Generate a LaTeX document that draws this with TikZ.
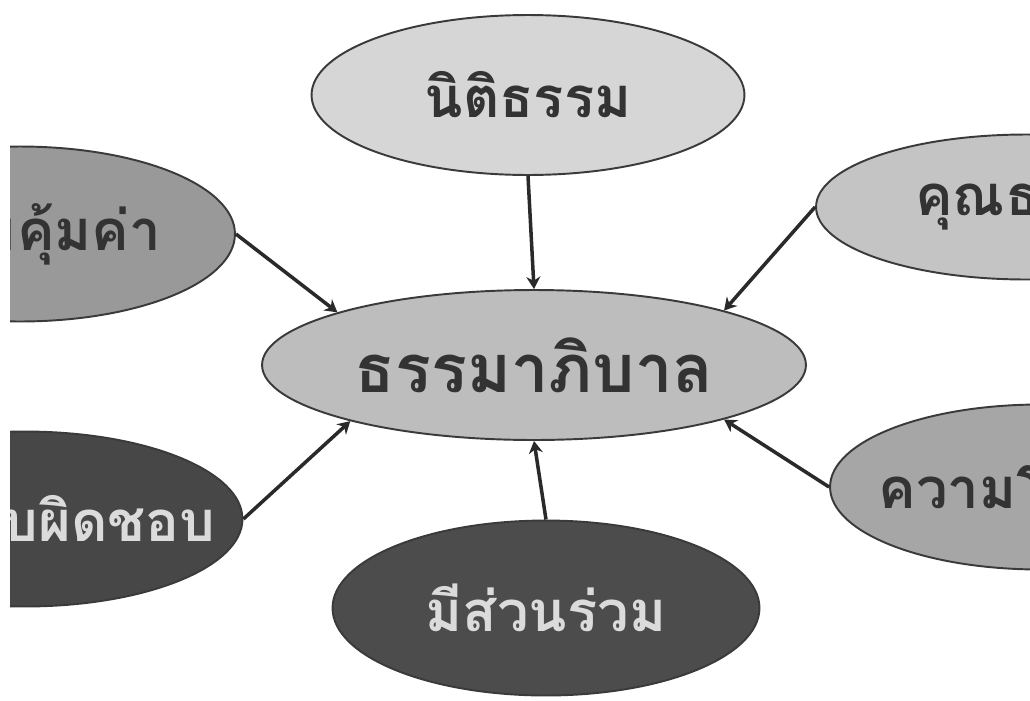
\documentclass[tikz,border=0pt]{standalone}
\usepackage{fontspec}
\newfontfamily\thaifont[Script=Thai]{Loma}
\usepackage{tikz}
\usetikzlibrary{arrows.meta}
\usetikzlibrary{shapes.geometric}

\definecolor{rimgray}{HTML}{3A3A3A}
\definecolor{linkgray}{HTML}{2A2A2A}

\begin{document}
\begin{tikzpicture}[x=0.02cm,y=-0.02cm,
        bubble/.style={ellipse,draw=rimgray,line width=1.1pt,inner sep=0pt,
            font=\thaifont\bfseries\fontsize{32}{36}\selectfont},
        link/.style={line width=2pt,draw=linkgray,-{Stealth[length=7pt,width=8pt]}}]
            \useasboundingbox (0,0) rectangle (1030,700);
            \clip (10,0) rectangle (1030,700);

            \node[bubble,fill=black!16,text=black!80,minimum width=8.66cm,minimum height=3.2cm] (nitham) at (528,95) {นิติธรรม};
            \node[bubble,fill=black!26,text=black!80,minimum width=10.88cm,minimum height=3cm,
                font=\thaifont\bfseries\fontsize{38}{42}\selectfont] (thama) at (534,365) {ธรรมาภิบาล};
            \node[bubble,fill=black!70,text=black!14,minimum width=8.54cm,minimum height=3.5cm] (suanruam) at (546,608) {มีส่วนร่วม};

            % the outer ones run off the page, text too
            \node[bubble,fill=black!40,text=black!80,minimum width=8.6cm,minimum height=3.5cm] (khumkha) at (20,234) {\makebox[0pt]{ความคุ้มค่า}};
            \node[bubble,fill=black!72,text=black!14,minimum width=8.7cm,minimum height=3.5cm] (rabphit) at (25,519) {\makebox[0pt]{ความรับผิดชอบ}};
            \node[bubble,fill=black!23,text=black!80,minimum width=8.4cm,minimum height=2.9cm] (khunna) at (1026,207) {\makebox[0pt]{คุณธรรม}};
            \node[bubble,fill=black!35,text=black!80,minimum width=8.4cm,minimum height=3.3cm] (prongsai) at (1040,487) {\makebox[0pt]{ความโปร่งใส}};

            \draw[link] (nitham.south) -- (thama.north);
            \draw[link] (suanruam.north) -- (thama.south);
            \draw[link] (khumkha.east) -- (thama.165);
            \draw[link] (rabphit.east) -- (thama.197);
            \draw[link] (khunna.west) -- (thama.16);
            \draw[link] (prongsai.west) -- (thama.-16);
\end{tikzpicture}
\end{document}
